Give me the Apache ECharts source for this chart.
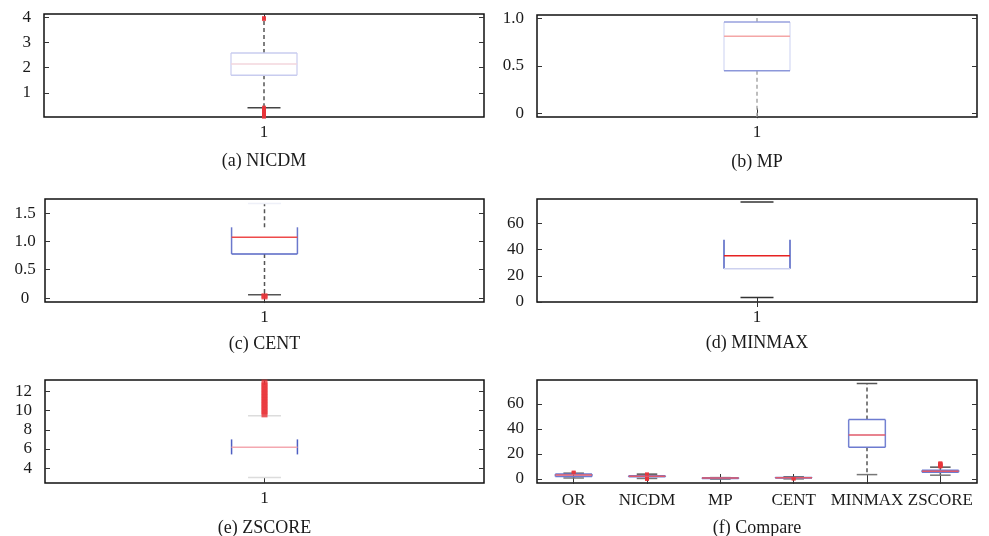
<!DOCTYPE html>
<html>
<head>
<meta charset="utf-8">
<script src="https://cdn.jsdelivr.net/npm/echarts@6/dist/echarts.min.js"></script>
<style>
  html, body { margin: 0; padding: 0; background: #fff; }
  #main { width: 989px; height: 536px; }
</style>
</head>
<body>
<div id="main"></div>
<script>
// categories
var methods = ['OR', 'NICDM', 'MP', 'CENT', 'MINMAX', 'ZSCORE'];
var single = ['1'];

// box statistics: [lower whisker, Q1, median, Q3, upper whisker]
var orStats = [0.8, 2.0, 3.2, 3.9, 4.6];
var nicdmStats = [0.42, 1.70, 2.14, 2.58, 3.88];
var mpStats = [-0.08, 0.447, 0.812, 0.962, 1.08];
var centStats = [0.06, 0.78, 1.075, 1.25, 1.67];
var minmaxStats = [3.5, 25.3, 35.2, 47.4, 76.2];
var zscoreStats = [3.03, 5.44, 6.19, 7.0, 9.45];

// outliers
var orOut = [5.2, 5.6];
var nicdmOut = [3.92, 3.96, 0.02, 0.06, 0.1, 0.14, 0.18, 0.22, 0.26, 0.3, 0.34, 0.38, 0.42];
var mpOut = [];
var centOut = [0.02, 0.04];
var minmaxOut = [];
var zscoreOut = [9.6, 9.9, 10.2, 10.5, 10.8, 11.1, 11.4, 11.7, 12.0, 12.3, 12.6, 12.9];

// y tick values and labels
var ticksA = [1, 2, 3, 4], labelsA = ['1', '2', '3', '4'];
var ticksB = [0, 0.5, 1], labelsB = ['0', '0.5', '1.0'];
var ticksC = [0, 0.5, 1, 1.5], labelsC = ['0', '0.5', '1.0', '1.5'];
var ticksD = [0, 20, 40, 60], labelsD = ['0', '20', '40', '60'];
var ticksE = [4, 6, 8, 10, 12], labelsE = ['4', '6', '8', '10', '12'];
var ticksF = [0, 20, 40, 60], labelsF = ['0', '20', '40', '60'];

var FONT = "'Liberation Serif', 'DejaVu Serif', serif";
var RED = '#e8343a';

// panels: grid placement, axis range, look of the boxes
var panels = [
    { title: '(a) NICDM', cats: single, stats: [nicdmStats], outs: [nicdmOut],
      ticks: ticksA, labels: labelsA, min: 0.05, max: 4.12,
      grid: { left: 44, top: 14, width: 440, height: 103 }, titleY: 161,
      style: { boxRatio: 0.15, capRatio: 0.075, side: '#d4d6f2', top: '#c8ccef', bottom: '#c8ccef',
               median: '#f3d6dc', whisker: '#555', capTop: null, capBottom: '#444' },
      outSize: [4, 4] },
    { title: '(b) MP', cats: single, stats: [mpStats], outs: [mpOut],
      ticks: ticksB, labels: labelsB, min: -0.04, max: 1.036,
      grid: { left: 537, top: 15, width: 440, height: 102 }, titleY: 162,
      style: { boxRatio: 0.15, capRatio: 0.075, side: '#dde0f6', top: '#97a1de', bottom: '#8c97da',
               median: '#f4a6a6', whisker: '#a8a8a8', capTop: '#444', capBottom: '#444' },
      outSize: [4, 4] },
    { title: '(c) CENT', cats: single, stats: [centStats], outs: [centOut],
      ticks: ticksC, labels: labelsC, min: -0.07, max: 1.75, labelAlign: 'center', labelMargin: 20,
      grid: { left: 45, top: 199, width: 439, height: 103 }, titleY: 344,
      style: { boxRatio: 0.15, capRatio: 0.075, side: '#6b78cc', top: null, bottom: '#5666c4',
               median: '#ee4a4a', whisker: '#555', capTop: '#eef0f8', capBottom: '#555' },
      outSize: [6, 5] },
    { title: '(d) MINMAX', cats: single, stats: [minmaxStats], outs: [minmaxOut],
      ticks: ticksD, labels: labelsD, min: 0, max: 78.5,
      grid: { left: 537, top: 199, width: 440, height: 103 }, titleY: 343,
      style: { boxRatio: 0.15, capRatio: 0.075, side: '#4e5fc2', top: null, bottom: '#cdd1ef',
               median: '#e62222', whisker: null, capTop: '#333', capBottom: '#333' },
      outSize: [4, 4] },
    { title: '(e) ZSCORE', cats: single, stats: [zscoreStats], outs: [zscoreOut],
      ticks: ticksE, labels: labelsE, min: 2.47, max: 13.17,
      grid: { left: 45, top: 380, width: 439, height: 103 }, titleY: 528,
      style: { boxRatio: 0.15, capRatio: 0.075, side: '#4e5fc2', top: null, bottom: null,
               median: '#f4a8b0', whisker: null, capTop: '#dcdcdc', capBottom: '#dcdcdc' },
      outSize: [6, 6] },
    { title: '(f) Compare', cats: methods,
      stats: [orStats, nicdmStats, mpStats, centStats, minmaxStats, zscoreStats],
      outs: [orOut, nicdmOut, mpOut, centOut, minmaxOut, zscoreOut],
      ticks: ticksF, labels: labelsF, min: -3.2, max: 79, catMargin: 9,
      grid: { left: 537, top: 380, width: 440, height: 103 }, titleY: 528,
      style: { boxRatio: 0.5, capRatio: 0.28, side: '#7482d2', top: '#6d7bd0', bottom: '#6d7bd0',
               median: '#e05a6a', whisker: '#555', capTop: '#555', capBottom: '#777' },
      outSize: [4, 3] }
];

function boxRenderer(st) {
    return function (params, api) {
        var x = api.value(0);
        var cs = params.coordSys;
        var yMin = cs.y, yMax = cs.y + cs.height;
        var clampY = function (y) { return Math.max(yMin, Math.min(yMax, y)); };
        var band = api.size([1, 0])[0];
        var bw = band * st.boxRatio / 2, cw = band * st.capRatio / 2;
        var cx = api.coord([x, api.value(3)])[0];
        var yLow = api.coord([x, api.value(1)])[1];
        var yQ1 = api.coord([x, api.value(2)])[1];
        var yMed = api.coord([x, api.value(3)])[1];
        var yQ3 = api.coord([x, api.value(4)])[1];
        var yHigh = api.coord([x, api.value(5)])[1];
        var kids = [];
        function seg(x1, y1, x2, y2, color, dash) {
            kids.push({
                type: 'line',
                shape: { x1: x1, y1: y1, x2: x2, y2: y2 },
                style: { stroke: color, lineWidth: 1.5, lineDash: dash || null }
            });
        }
        if (st.whisker) {
            seg(cx, clampY(yQ3), cx, clampY(yHigh), st.whisker, [4, 3]);
            seg(cx, clampY(yQ1), cx, clampY(yLow), st.whisker, [4, 3]);
        }
        if (st.capTop && yHigh >= yMin) seg(cx - cw, yHigh, cx + cw, yHigh, st.capTop);
        if (st.capBottom && yLow <= yMax) seg(cx - cw, yLow, cx + cw, yLow, st.capBottom);
        seg(cx - bw, yQ1, cx - bw, yQ3, st.side);
        seg(cx + bw, yQ1, cx + bw, yQ3, st.side);
        if (st.top) seg(cx - bw, yQ3, cx + bw, yQ3, st.top);
        if (st.bottom) seg(cx - bw, yQ1, cx + bw, yQ1, st.bottom);
        seg(cx - bw, yMed, cx + bw, yMed, st.median);
        return { type: 'group', children: kids };
    };
}

var grids = [], xAxes = [], yAxes = [], series = [], texts = [];
panels.forEach(function (p, i) {
    grids.push({
        left: p.grid.left, top: p.grid.top, width: p.grid.width, height: p.grid.height,
        show: true, borderColor: '#111', borderWidth: 1.5, backgroundColor: '#fff'
    });
    var tickStyle = { show: true, inside: true, length: 5, lineStyle: { color: '#333', width: 1 } };
    xAxes.push({
        type: 'category', gridIndex: i, position: 'bottom', data: p.cats,
        axisLine: { show: false },
        axisTick: Object.assign({ alignWithLabel: true }, tickStyle),
        axisLabel: { interval: 0, fontFamily: FONT, fontSize: 17, color: '#1a1a1a', margin: p.catMargin || 7 }
    });
    xAxes.push({
        type: 'category', gridIndex: i, position: 'top', data: p.cats,
        axisLine: { show: false },
        axisTick: Object.assign({ alignWithLabel: true }, tickStyle),
        axisLabel: { show: false }
    });
    var fmt = function (v) {
        var k = p.ticks.indexOf(v);
        return k >= 0 ? p.labels[k] : '';
    };
    yAxes.push({
        type: 'value', gridIndex: i, position: 'left', min: p.min, max: p.max,
        axisLine: { show: false }, splitLine: { show: false },
        axisTick: Object.assign({ customValues: p.ticks }, tickStyle),
        axisLabel: {
            customValues: p.ticks, formatter: fmt, fontFamily: FONT, fontSize: 17,
            color: '#1a1a1a', margin: p.labelMargin || 13, align: p.labelAlign || 'right'
        }
    });
    yAxes.push({
        type: 'value', gridIndex: i, position: 'right', min: p.min, max: p.max,
        axisLine: { show: false }, splitLine: { show: false },
        axisTick: Object.assign({ customValues: p.ticks }, tickStyle),
        axisLabel: { show: false }
    });
    series.push({
        type: 'custom', xAxisIndex: 2 * i, yAxisIndex: 2 * i, z: 2,
        renderItem: boxRenderer(p.style),
        encode: { x: 0, y: [1, 2, 3, 4, 5] },
        data: p.stats.map(function (s, k) { return [k].concat(s); })
    });
    var pts = [];
    p.outs.forEach(function (arr, k) {
        arr.forEach(function (v) { pts.push([k, v]); });
    });
    series.push({
        type: 'scatter', xAxisIndex: 2 * i, yAxisIndex: 2 * i, z: 3,
        symbol: 'rect', symbolSize: p.outSize, itemStyle: { color: RED },
        data: pts
    });
    texts.push({
        type: 'text',
        x: p.grid.left + p.grid.width / 2, y: p.titleY,
        style: {
            text: p.title, font: '18px ' + FONT, fill: '#1a1a1a',
            align: 'center', verticalAlign: 'middle'
        }
    });
});

var myChart = echarts.init(document.getElementById('main'));
myChart.setOption({
    animation: false,
    backgroundColor: '#fff',
    grid: grids,
    xAxis: xAxes,
    yAxis: yAxes,
    series: series,
    graphic: texts
});
</script>
</body>
</html>
